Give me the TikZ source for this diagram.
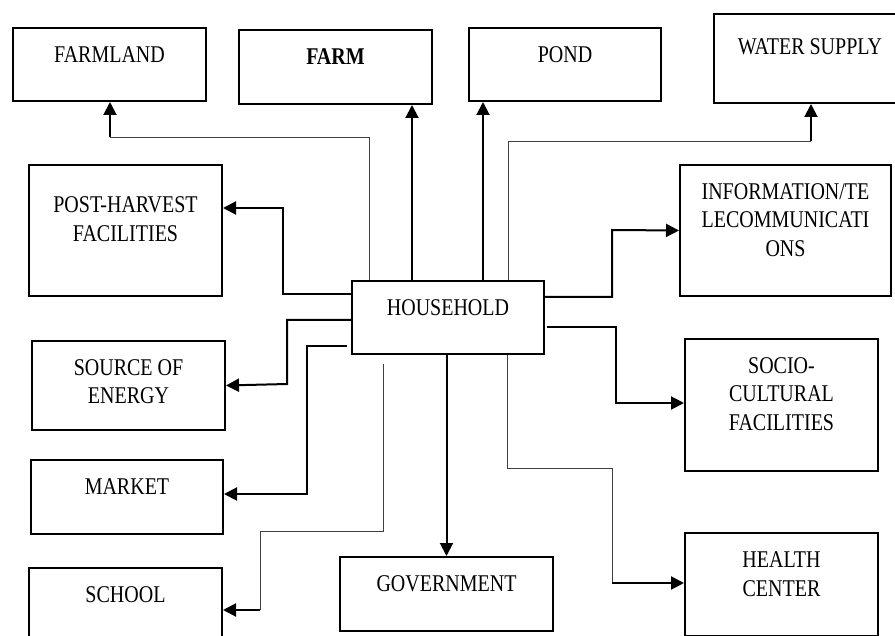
\documentclass[tikz,border=0pt]{standalone}
\usepackage{fontspec}
\setmainfont{Liberation Serif}
\usepackage{graphicx}
\usetikzlibrary{arrows.meta}
\newcommand{\boxtext}[1]{\scalebox{1}[1.2]{\begin{tabular}[t]{@{}c@{}}#1\end{tabular}}}

\begin{document}
\begin{tikzpicture}[x=1pt,y=-1pt,
  box/.style={draw,line width=2pt,inner sep=0pt,anchor=north west,
    minimum width=193pt,text height=34.5pt,font=\fontsize{20}{23.75}\selectfont},
  faint/.style={line width=0.9pt,black!75},
  strong/.style={line width=2pt},
  arr/.style={-{Triangle[length=13pt,width=13pt]}}]
\useasboundingbox (0,0) rectangle (895,636);

\node[box,text depth=38.5pt] (farmland) at (12,27) {\boxtext{FARMLAND}};
\node[box,text depth=39.5pt] (farm) at (238,29) {\boxtext{\textbf{FARM}}};
\node[box,minimum width=192pt,text depth=38.5pt] (pond) at (468,27) {\boxtext{POND}};
\node[box,minimum width=192pt,text height=41pt,text depth=48pt] (water) at (713,13) {\boxtext{WATER SUPPLY}};
\node[box,text height=48pt,text depth=83pt] (posthar) at (28,164) {\boxtext{POST-HARVEST\\FACILITIES}};
\node[box,minimum width=211pt,text depth=96.5pt] (info) at (679,164) {\boxtext{INFORMATION/TE\\LECOMMUNICATI\\ONS}};
\node[box,minimum width=192pt,text depth=38.5pt] (household) at (351,280) {\boxtext{HOUSEHOLD}};
\node[box,text depth=54.5pt] (energy) at (31,340) {\boxtext{SOURCE OF\\ENERGY}};
\node[box,minimum width=192pt,text depth=39.5pt] (market) at (30,459) {\boxtext{MARKET}};
\node[box,text depth=43.5pt] (school) at (28,567) {\boxtext{SCHOOL}};
\node[box,minimum width=213pt,text depth=39.5pt] (govt) at (339,556) {\boxtext{GOVERNMENT}};
\node[box,text depth=97.5pt] (socio) at (684,338) {\boxtext{SOCIO-\\CULTURAL\\FACILITIES}};
\node[box,text depth=68.5pt] (health) at (684,532) {\boxtext{HEALTH\\CENTER}};

\draw[faint] (369,0 |- household.north) |- (110,137);
\draw[strong,arr] (110,137) -- (110,0 |- farmland.south);
\draw[strong,arr] (412,0 |- household.north) -- (412,0 |- farm.south);
\draw[strong,arr] (483,0 |- household.north) -- (483,0 |- pond.south);
\draw[faint] (508,0 |- household.north) |- (811,141);
\draw[strong,arr] (811,141) -- (811,0 |- water.south);

\draw[strong,arr] (household.west |- 0,294) -| (283,208) -- (posthar.east |- 0,208);
\draw[strong,arr] (household.east |- 0,297) -| (612,230) -- (info.west);
\draw[strong,arr] (household.west |- 0,320) -| (287,384) -- (energy.east);
\draw[strong,arr] (347,346) -| (307,494) -- (market.east |- 0,494);
\draw[strong,arr] (547,327) -| (616,403) -- (socio.west |- 0,403);

\draw[faint] (383,364) |- (260,531) -- (260,610);
\draw[strong,arr] (260,610) -- (school.east |- 0,610);
\draw[strong,arr] (govt.north |- household.south) -- (govt.north);
\draw[faint] (507,0 |- household.south) |- (612,468) -- (612,583);
\draw[strong,arr] (612,583) -- (health.west |- 0,583);
\end{tikzpicture}
\end{document}
